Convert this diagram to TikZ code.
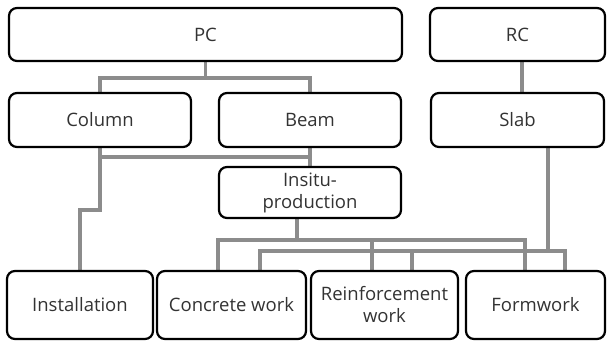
\documentclass[tikz,border=0pt]{standalone}
\usepackage{fontspec}
\setmainfont{Open Sans}
\usetikzlibrary{backgrounds}
\begin{document}
\begin{tikzpicture}[x=1pt,y=-1pt,
  box/.style={draw=black,line width=2.2pt,rounded corners=8pt,fill=white,
    inner sep=0pt,align=center,text=black!80,
    font=\fontsize{18.5}{22}\selectfont},
  conn/.style={draw=black!45,line width=3.6pt}]
\useasboundingbox (0,0) rectangle (608,342);
% boxes: node at center with given size
\newcommand{\mybox}[6]{% name, x1,y1,x2,y2, text
  \node[box,minimum width={#4-#2},minimum height={#5-#3}] (#1) at ({(#2+#4)/2},{(#3+#5)/2}) {#6};}
\mybox{pc}{9}{8}{402}{61}{PC}
\mybox{rc}{430}{8}{605}{61}{RC}
\mybox{column}{9}{93}{191}{147}{Column}
\mybox{beam}{219}{93}{401}{147}{Beam}
\mybox{slab}{431}{93}{604}{147}{Slab}
\mybox{insitu}{219}{167}{401}{218}{Insitu-\\production}
\mybox{install}{7}{271}{153}{339}{Installation}
\mybox{concrete}{157}{271}{306}{339}{Concrete work}
\mybox{reinf}{311}{271}{458}{339}{Reinforcement\\work}
\mybox{formwork}{466}{271}{605}{339}{Formwork}
% junction coordinates
\coordinate (j1) at (205.5,78);
\coordinate (rcl) at (522,0);
\coordinate (y157) at (0,157);
\coordinate (y210) at (0,210);
\coordinate (ia) at (297,240);
\coordinate (i1) at (218,240);
\coordinate (i2) at (372,240);
\coordinate (i3) at (525,240);
\coordinate (sa) at (548,251);
\coordinate (s1) at (260,251);
\coordinate (s2) at (412,251);
\coordinate (s3) at (565,251);
\begin{pgfonlayer}{background}
\draw[conn] (pc.south) -- (j1);
\draw[conn] (column.north) |- (j1) -| (beam.north);
\draw[conn] (rc.south -| rcl) -- (slab.north -| rcl);
\draw[conn] (column.south) -- (column.south |- y210) -| (install.north);
\draw[conn] (beam.south) -- (insitu.north);
\draw[conn] (column.south |- y157) -- (beam.south |- y157);
% insitu tree
\draw[conn] (insitu.south -| ia) -- (ia);
\draw[conn] (i1 |- concrete.north) -- (i1) -- (i3) -- (i3 |- formwork.north);
\draw[conn] (i2) -- (i2 |- reinf.north);
% slab tree
\draw[conn] (slab.south -| sa) -- (sa);
\draw[conn] (s1 |- concrete.north) -- (s1) -- (s3) -- (s3 |- formwork.north);
\draw[conn] (s2) -- (s2 |- reinf.north);
\end{pgfonlayer}
\end{tikzpicture}
\end{document}
